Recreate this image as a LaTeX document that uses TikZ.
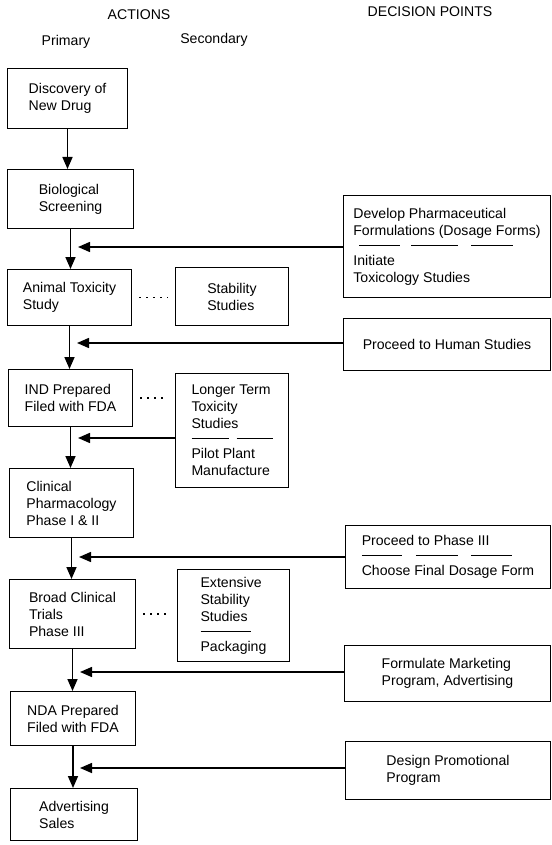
\documentclass[tikz,border=0pt]{standalone}
\usepackage{fontspec}
\setmainfont{Liberation Sans}
\usetikzlibrary{arrows.meta,calc}
\newcommand\dashseg[1]{\rule[4.4pt]{#1}{1.2pt}}
\begin{document}
\begin{tikzpicture}[x=1pt,y=-1pt,
  font=\fontsize{14.1}{17}\selectfont,
  box/.style={draw, line width=1pt, anchor=north west, inner sep=0pt, align=left},
  flow/.style={line width=1.6pt, -{Triangle[length=12pt,width=10pt]}},
  feed/.style={line width=1.5pt, -{Triangle[length=12pt,width=10pt]}},
  link/.style={line width=1.5pt, dash pattern=on 1.5pt off 5.5pt},
  hdr/.style={inner sep=0pt}]
\useasboundingbox (0,0) rectangle (551,845);

% headers
\node[hdr] (hact) at (139,15) {ACTIONS};
\node[hdr] (hdec) at (430,12) {DECISION POINTS};
\node[hdr] (hpri) at (66,42) {Primary};
\node[hdr] (hsec) at (214,40) {Secondary};

% primary actions
\node[box, minimum width=120pt, minimum height=60pt] (disc) at (7,68) {Discovery of\\New Drug};
\node[box, minimum width=126pt, minimum height=59pt] (bio) at (7,169) {Biological\\Screening};
\node[box, minimum width=124pt, minimum height=56pt] (anim) at (7,269) {Animal Toxicity\\Study};
\node[box, minimum width=124pt, minimum height=57pt] (ind) at (8,369) {IND Prepared\\Filed with FDA};
\node[box, minimum width=124pt, minimum height=69pt] (clin) at (9,468) {Clinical\\Pharmacology\\Phase I \& II};
\node[box, minimum width=126pt, minimum height=69pt] (broad) at (9,579) {Broad Clinical\\Trials\\Phase III};
\node[box, minimum width=125pt, minimum height=54pt] (nda) at (10,691) {NDA Prepared\\Filed with FDA};
\node[box, minimum width=127pt, minimum height=52pt] (adv) at (10,788) {Advertising\\Sales};

% secondary actions
\node[box, minimum width=113pt, minimum height=58pt] (stab) at (175,267) {Stability\\Studies};
\node[box, minimum width=113pt, minimum height=114pt] (long) at (175,373)
  {Longer Term\\Toxicity\\Studies\\[-2pt]\dashseg{37pt}\hspace{8pt}\dashseg{36pt}\\[-2pt]Pilot Plant\\Manufacture};
\node[box, minimum width=112pt, minimum height=92pt] (ext) at (177,569)
  {Extensive\\Stability\\Studies\\[-2pt]\dashseg{50pt}\\[-2pt]Packaging};

% decision points
\node[box, minimum width=207pt, minimum height=102pt] (dev) at (343,195)
  {Develop Pharmaceutical\\Formulations (Dosage Forms)\\[-2pt]\hspace*{6pt}\dashseg{41pt}\hspace{11pt}\dashseg{47pt}\hspace{13pt}\dashseg{42pt}\\[-2pt]Initiate\\Toxicology Studies};
\node[box, minimum width=207pt, minimum height=52pt] (hum) at (343,318) {Proceed to Human Studies};
\node[box, minimum width=205pt, minimum height=63pt] (ph3) at (345,525)
  {Proceed to Phase III\\[-2pt]\dashseg{40pt}\hspace{14pt}\dashseg{42pt}\hspace{13pt}\dashseg{41pt}\\[-2pt]Choose Final Dosage Form};
\node[box, minimum width=206pt, minimum height=56pt] (mkt) at (344,645) {Formulate Marketing\\Program, Advertising};
\node[box, minimum width=205pt, minimum height=58pt] (promo) at (345,741) {Design Promotional\\Program};

% main flow
\draw[flow] (disc.south) -- (disc.south |- bio.north);
\draw[flow] (bio.south) -- (bio.south |- anim.north);
\draw[flow] (anim.south) -- (anim.south |- ind.north);
\draw[flow] (ind.south) -- (ind.south |- clin.north);
\draw[flow] (clin.south) -- (clin.south |- broad.north);
\draw[flow] (broad.south) -- (broad.south |- nda.north);
\draw[flow] (nda.south) -- (nda.south |- adv.north);

% feeds from decision points
\coordinate (m1) at (78,247);
\coordinate (m2) at (77,343);
\coordinate (m3) at (78,438);
\coordinate (m4) at (79,557);
\coordinate (m5) at (80,672);
\coordinate (m6) at (80,768);
\draw[feed] (dev.west |- m1) -- (m1);
\draw[feed] (hum.west |- m2) -- (m2);
\draw[feed] (long.west |- m3) -- (m3);
\draw[feed] (ph3.west |- m4) -- (m4);
\draw[feed] (mkt.west |- m5) -- (m5);
\draw[feed] (promo.west |- m6) -- (m6);

% dotted links to secondary actions
\draw[link] ([xshift=7pt]anim.east) -- ([xshift=-7pt]anim.east -| stab.west);
\draw[link] ([xshift=7pt]ind.east) -- ([xshift=-7pt]ind.east -| long.west);
\draw[link] ([xshift=7pt]broad.east) -- ([xshift=-7pt]broad.east -| ext.west);
\end{tikzpicture}
\end{document}
